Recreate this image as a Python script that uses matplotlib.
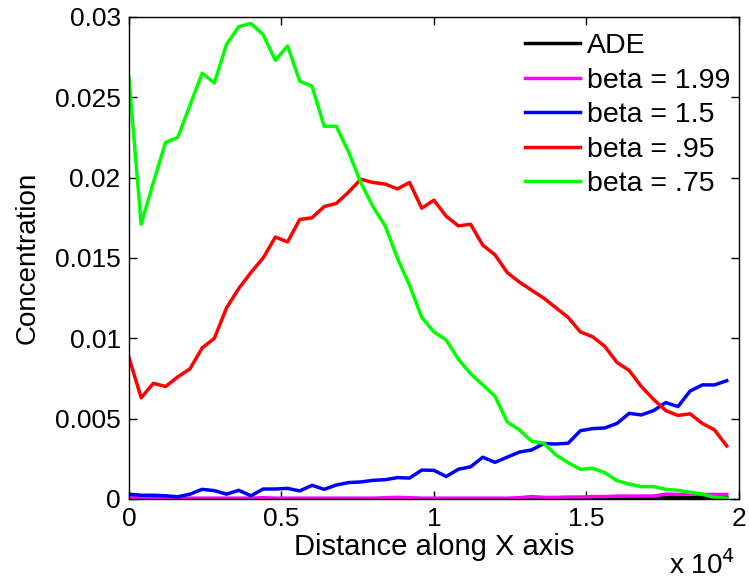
import matplotlib.pyplot as plt
import numpy as np
from matplotlib.ticker import FuncFormatter

plt.rcParams['font.family'] = ['Liberation Sans', 'DejaVu Sans']

# distance along x, every 400 units
x = np.arange(0, 20000, 400)

ade = [0.0]*36 + [0.00003, 0.00003, 0.0, 0.0, 0.00002, 0.00003, 0.00003, 0.00005,
                  0.00008, 0.0001, 0.0001, 0.0001, 0.00008, 0.00008]

beta_199 = [0.0001, 0.0001, 0.00008, 0.00008, 0.00006, 0.00005, 0.00005, 0.00005, 0.00005, 0.00005,
            0.00005, 0.00008, 0.00005, 0.00005, 0.00005, 0.00005, 0.00005, 0.00005, 0.00005, 0.00005,
            0.00005, 0.00008, 0.0001, 0.00008, 0.00005, 0.00005, 0.00005, 0.00005, 0.00005, 0.00005,
            0.00005, 0.00005, 0.00008, 0.00015, 0.0001, 0.0001, 0.00012, 0.00012, 0.00015, 0.00015,
            0.00018, 0.00018, 0.00018, 0.00018, 0.0003, 0.00028, 0.00032, 0.00028, 0.00028, 0.00028]

beta_15 = [0.0003, 0.00023, 0.00023, 0.0002, 0.00014, 0.0003, 0.0006, 0.00052, 0.0003, 0.00054,
           0.0002, 0.00062, 0.00062, 0.00066, 0.0005, 0.00085, 0.0006, 0.00087, 0.00102, 0.00106,
           0.00116, 0.0012, 0.00133, 0.0013, 0.00180, 0.00178, 0.0014, 0.00185, 0.002, 0.0026,
           0.00228, 0.0026, 0.00292, 0.00305, 0.00345, 0.00342, 0.00347, 0.00425, 0.00438, 0.00442,
           0.0047, 0.00533, 0.00523, 0.0055, 0.006, 0.00575, 0.00672, 0.0071, 0.0071, 0.00736]

beta_095 = [0.0088, 0.0063, 0.0072, 0.0070, 0.0076, 0.0081, 0.0094, 0.0100, 0.0119, 0.0131,
            0.0141, 0.0150, 0.0163, 0.0160, 0.0174, 0.0175, 0.0182, 0.0184, 0.0191, 0.0199,
            0.0197, 0.0196, 0.0193, 0.0197, 0.0181, 0.0186, 0.0176, 0.0170, 0.0171, 0.0158,
            0.0152, 0.0141, 0.0135, 0.0130, 0.0125, 0.0119, 0.0113, 0.0104, 0.0101, 0.0095,
            0.0085, 0.0080, 0.0070, 0.0062, 0.0055, 0.0052, 0.0053, 0.0047, 0.0043, 0.0033]

beta_075 = [0.0262, 0.0171, 0.0197, 0.0222, 0.0225, 0.0245, 0.0265, 0.0259, 0.0283, 0.0294,
            0.0296, 0.0289, 0.0273, 0.0282, 0.0260, 0.0257, 0.0232, 0.0232, 0.0216, 0.0197,
            0.0182, 0.0170, 0.0150, 0.0133, 0.0113, 0.0104, 0.0099, 0.0087, 0.0078, 0.0071,
            0.0064, 0.0048, 0.0043, 0.0036, 0.00347, 0.00274, 0.00226, 0.00185, 0.00191, 0.00164,
            0.00114, 0.00093, 0.00077, 0.00077, 0.0006, 0.00054, 0.00042, 0.0003, 0.0001, 0.00005]

fig = plt.figure(figsize=(7.49, 5.8), dpi=100)
ax = fig.add_axes([0.1722, 0.1397, 0.8144, 0.831])

lw = 2.5
ax.plot(x, ade, color='black', lw=lw, label='ADE')
ax.plot(x, beta_199, color='#ff00ff', lw=lw, label='beta = 1.99')
ax.plot(x, beta_15, color='#0000ff', lw=lw, label='beta = 1.5')
ax.plot(x, beta_095, color='#ff0000', lw=lw, label='beta = .95')
ax.plot(x, beta_075, color='#00ff00', lw=lw, label='beta = .75')

ax.set_xlim(0, 20000)
ax.set_ylim(0, 0.03)
ax.set_xticks([0, 5000, 10000, 15000, 20000])
ax.set_yticks([0, 0.005, 0.01, 0.015, 0.02, 0.025, 0.03])
ax.xaxis.set_major_formatter(FuncFormatter(lambda v, p: '%g' % (v / 1e4)))
ax.yaxis.set_major_formatter(FuncFormatter(lambda v, p: '%g' % v))
ax.tick_params(direction='in', length=6, width=1, top=True, right=True,
               labelsize=19, pad=6)
for s in ax.spines.values():
    s.set_linewidth(1)

ax.set_xlabel('Distance along X axis', fontsize=21, labelpad=1)
ax.set_ylabel('Concentration', fontsize=20, labelpad=10)
fig.text(0.982, 0.0, 'x 10$^4$', fontsize=20, ha='right', va='bottom')

leg = ax.legend(loc='upper right', frameon=False, fontsize=20.5, handlelength=1.95,
                handletextpad=0.22, labelspacing=0.3, borderaxespad=0.0,
                bbox_to_anchor=(1.004, 0.99))

fig.savefig('out.png', dpi=100)
